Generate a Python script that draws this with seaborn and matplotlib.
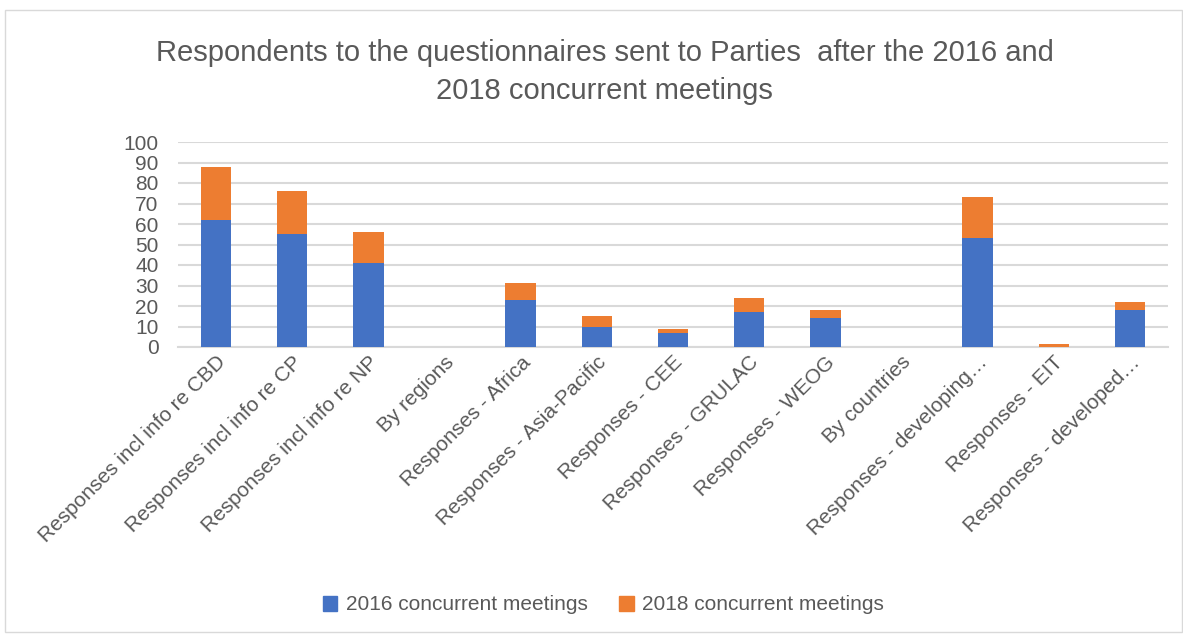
import pandas as pd
import seaborn as sns
import matplotlib.pyplot as plt
from matplotlib.patches import Rectangle, Patch

categories = [
    "Responses incl info re CBD", "Responses incl info re CP", "Responses incl info re NP",
    "By regions", "Responses - Africa", "Responses - Asia-Pacific", "Responses - CEE",
    "Responses - GRULAC", "Responses - WEOG", "By countries", "Responses - developing\u2026",
    "Responses - EIT", "Responses - developed\u2026",
]
meetings_2016 = [62, 55, 41, 0, 23, 10, 7, 17, 14, 0, 53, 0, 18]
meetings_2018 = [26, 21, 15, 0, 8, 5, 2, 7, 4, 0, 20, 1.5, 4]

blue = "#4472C4"
orange = "#ED7D31"
grey = "#595959"

df = pd.DataFrame({"cat": categories, "y2016": meetings_2016, "y2018": meetings_2018})
df["total"] = df["y2016"] + df["y2018"]

sns.set_style("white")
plt.rcParams["font.family"] = ["Liberation Sans", "DejaVu Sans"]

fig = plt.figure(figsize=(11.83, 6.37), dpi=100)
ax = fig.add_axes([178 / 1183, 1 - 347 / 637, 990 / 1183, 205 / 637])

sns.barplot(data=df, x="cat", y="total", color=orange, width=0.4, ax=ax, saturation=1,
            linewidth=0, zorder=3)
sns.barplot(data=df, x="cat", y="y2016", color=blue, width=0.4, ax=ax, saturation=1,
            linewidth=0, zorder=4)

ax.set_ylim(0, 100)
ax.set_yticks(range(0, 101, 10))
ax.set_xlim(-0.5, len(categories) - 0.5)
ax.yaxis.grid(True, color="#D9D9D9", linewidth=1.5, zorder=0)
ax.set_axisbelow(True)
for s in ["top", "right", "left"]:
    ax.spines[s].set_visible(False)
ax.spines["bottom"].set_color("#D9D9D9")
ax.spines["bottom"].set_linewidth(1.5)
ax.set_xlabel("")
ax.set_ylabel("")
ax.tick_params(axis="both", length=0, labelsize=15, colors=grey, pad=4)
ax.tick_params(axis="y", pad=14)
plt.setp(ax.get_xticklabels(), rotation=45, ha="right", rotation_mode="anchor")

fig.text(0.511, 0.887, "Respondents to the questionnaires sent to Parties  after the 2016 and\n2018 concurrent meetings",
         ha="center", va="center", fontsize=21, color=grey, linespacing=1.45)

handles = [Patch(color=blue, label="2016 concurrent meetings"),
           Patch(color=orange, label="2018 concurrent meetings")]
fig.legend(handles=handles, loc="center", bbox_to_anchor=(0.51, 1 - 605 / 637), ncol=2,
           frameon=False, fontsize=15, labelcolor=grey, handlelength=0.7, handleheight=0.7,
           columnspacing=1.5, handletextpad=0.4)

fig.patches.append(Rectangle((5 / 1183, 5 / 637), 1 - 6 / 1183, 1 - 15 / 637, transform=fig.transFigure,
                             fill=False, edgecolor="#D9D9D9", linewidth=1))

fig.savefig("out.png", dpi=100)
